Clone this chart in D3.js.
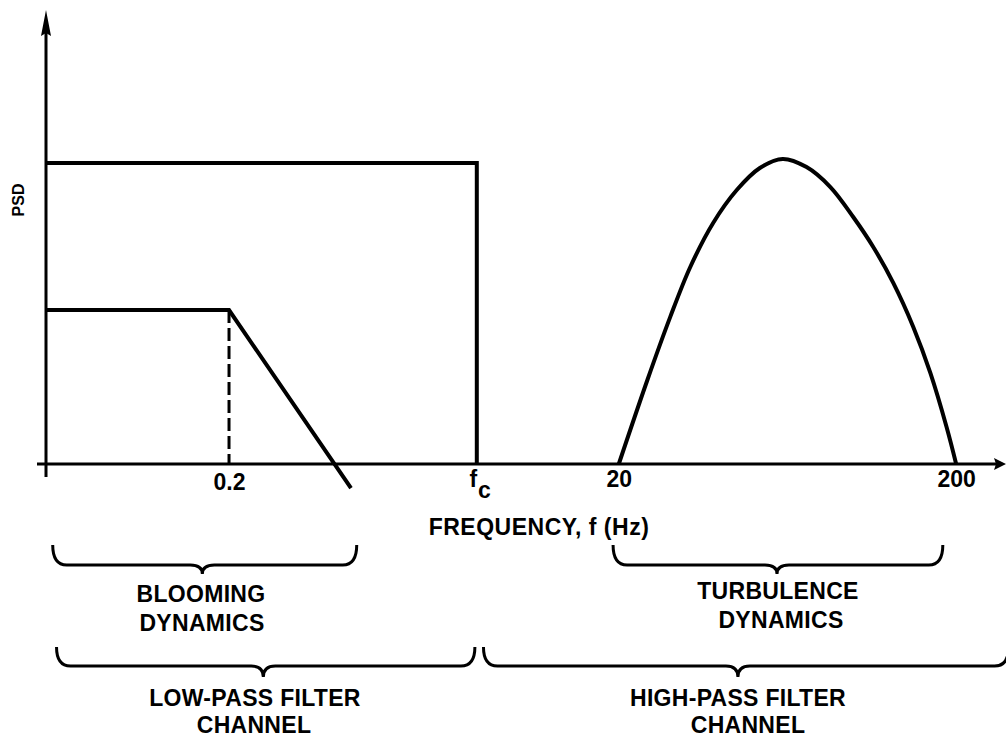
<!DOCTYPE html>
<html>
<head>
<meta charset="utf-8">
<script src="https://cdn.jsdelivr.net/npm/d3@7"></script>
<style>
  html, body { margin: 0; padding: 0; background: #fff; }
  svg { display: block; }
  text { font-family: "Liberation Sans", Arial, Helvetica, sans-serif; fill: #000; }
</style>
</head>
<body>
<svg id="chart" width="1006" height="740"></svg>
<script>
// ---- data (schematic diagram units) ----
const tickValues = [19.1, 45.1, 60.0, 95.4];
const tickLabels = ["0.2", "f", "20", "200"];

const fcX = 45.1;                 // cut-off frequency position
const fcLevel = 66.3;             // low-pass channel PSD level
const bloomX = [0, 19.1, 31.9];   // blooming spectrum x
const bloomY = [33.9, 33.9, -5.3];// blooming spectrum y

const turbX = [60.0, 63.0, 65.4, 67.5, 69.9, 72.4, 74.8, 77.2, 79.7, 82.2, 84.6, 86.7, 88.8, 90.9, 92.7, 94.4, 95.4];
const turbY = [0, 18.5, 32.4, 43.4, 53.1, 60.4, 65.2, 67.2, 65.4, 61.0, 54.4, 47.8, 39.9, 30.2, 20.0, 8.1, 0];

const braceNames = ["BLOOMING|DYNAMICS", "TURBULENCE|DYNAMICS", "LOW-PASS FILTER|CHANNEL", "HIGH-PASS FILTER|CHANNEL"];
const braceStart = [0.6, 59.4, 1.0, 45.8];
const braceEnd   = [32.5, 94.0, 44.9, 100.9];
const braceTip   = [16.3, 76.6, 22.7, 72.5];

// ---- layout ----
const svg = d3.select("#chart");
const x = d3.scaleLinear().domain([0, 100]).range([47, 1000]);
const y = d3.scaleLinear().domain([0, 100]).range([464, 10]);
const x0 = x(0), y0 = y(0);
const FONT = "23px";

// x axis line
svg.append("line").attr("x1", 37).attr("x2", 998).attr("y1", y0).attr("y2", y0)
  .attr("stroke", "#000").attr("stroke-width", 3);
svg.append("path").attr("d", `M1006,${y0} L994,${y0-6} L996,${y0} L994,${y0+6} Z`).attr("fill", "#000");
// y axis line
svg.append("line").attr("x1", x0 - 1).attr("x2", x0 - 1).attr("y1", 30).attr("y2", 477)
  .attr("stroke", "#000").attr("stroke-width", 3);
svg.append("path").attr("d", `M${x0-1},10 L${x0-6},36 L${x0-1},33 L${x0+4},36 Z`).attr("fill", "#000");

// tick labels via axis generator
const axis = d3.axisBottom(x).tickValues(tickValues)
  .tickFormat((d, i) => tickLabels[i]).tickSize(0).tickPadding(0);
const gAxis = svg.append("g").attr("transform", `translate(0,${y0})`).call(axis);
gAxis.select(".domain").remove();
gAxis.selectAll(".tick text")
  .attr("dy", 0)
  .style("font-family", "\"Liberation Sans\", Arial, sans-serif")
  .style("font-size", FONT).style("font-weight", "bold").attr("fill", "#000")
  .attr("dx", (d, i) => i === 1 ? -4 : 0)
  .attr("y", (d, i) => i === 0 ? 26 : 23);
gAxis.selectAll(".tick").filter((d, i) => i === 1).append("text")
  .attr("x", 7).attr("y", 34).attr("text-anchor", "middle")
  .style("font-size", FONT).style("font-weight", "bold").text("c");

// low-pass rectangle
svg.append("path")
  .attr("d", d3.line()([[x(0), y(fcLevel)], [x(fcX), y(fcLevel)], [x(fcX), y(0)]]))
  .attr("fill", "none").attr("stroke", "#000").attr("stroke-width", 4);

// blooming spectrum
svg.append("path")
  .attr("d", d3.line()(bloomX.map((v, i) => [x(v), y(bloomY[i])])))
  .attr("fill", "none").attr("stroke", "#000").attr("stroke-width", 4);
// dashed corner drop
svg.append("line").attr("x1", x(bloomX[1])).attr("x2", x(bloomX[1]))
  .attr("y1", y(bloomY[1])).attr("y2", y0)
  .attr("stroke", "#000").attr("stroke-width", 3).attr("stroke-dasharray", "13,5");

// turbulence spectrum
svg.append("path")
  .attr("d", d3.line().x(d => x(d[0])).y(d => y(d[1])).curve(d3.curveCatmullRom)(turbX.map((v, i) => [v, turbY[i]])))
  .attr("fill", "none").attr("stroke", "#000").attr("stroke-width", 4);

// axis titles
svg.append("text").attr("x", 539).attr("y", 535).attr("text-anchor", "middle")
  .style("font-size", FONT).style("font-weight", "bold").style("letter-spacing", "0.5px")
  .text("FREQUENCY, f (Hz)");
svg.append("text").attr("transform", "translate(24,200) rotate(-90)").attr("text-anchor", "middle")
  .style("font-size", "16px").style("font-weight", "bold").text("PSD");

// braces
const braceRows = [
  { top: 545, h: 565, tip: 574, t1: 602, gap: 29, cx: [201, 202] },
  { top: 545, h: 565, tip: 574, t1: 599, gap: 29, cx: [778, 781] },
  { top: 647, h: 666, tip: 677, t1: 706, gap: 27, cx: [255, 254] },
  { top: 647, h: 666, tip: 677, t1: 706, gap: 27, cx: [738, 748] }
];
braceNames.forEach((name, i) => {
  const r = braceRows[i];
  const a = x(braceStart[i]), b = x(braceEnd[i]), m = x(braceTip[i]);
  const p = d3.path();
  p.moveTo(a, r.top);
  p.quadraticCurveTo(a, r.h, a + 14, r.h);
  p.lineTo(m - 12, r.h);
  p.quadraticCurveTo(m, r.h, m, r.tip);
  p.quadraticCurveTo(m, r.h, m + 12, r.h);
  p.lineTo(b - 14, r.h);
  p.quadraticCurveTo(b, r.h, b, r.top);
  svg.append("path").attr("d", p.toString()).attr("fill", "none")
    .attr("stroke", "#000").attr("stroke-width", 3);
  const lines = name.split("|");
  const t = svg.append("text").attr("text-anchor", "middle")
    .style("font-size", FONT).style("font-weight", "bold").style("letter-spacing", "0.3px");
  lines.forEach((ln, j) => {
    t.append("tspan").attr("x", r.cx[j]).attr("y", r.t1 + j * r.gap).text(ln);
  });
});
</script>
</body>
</html>
